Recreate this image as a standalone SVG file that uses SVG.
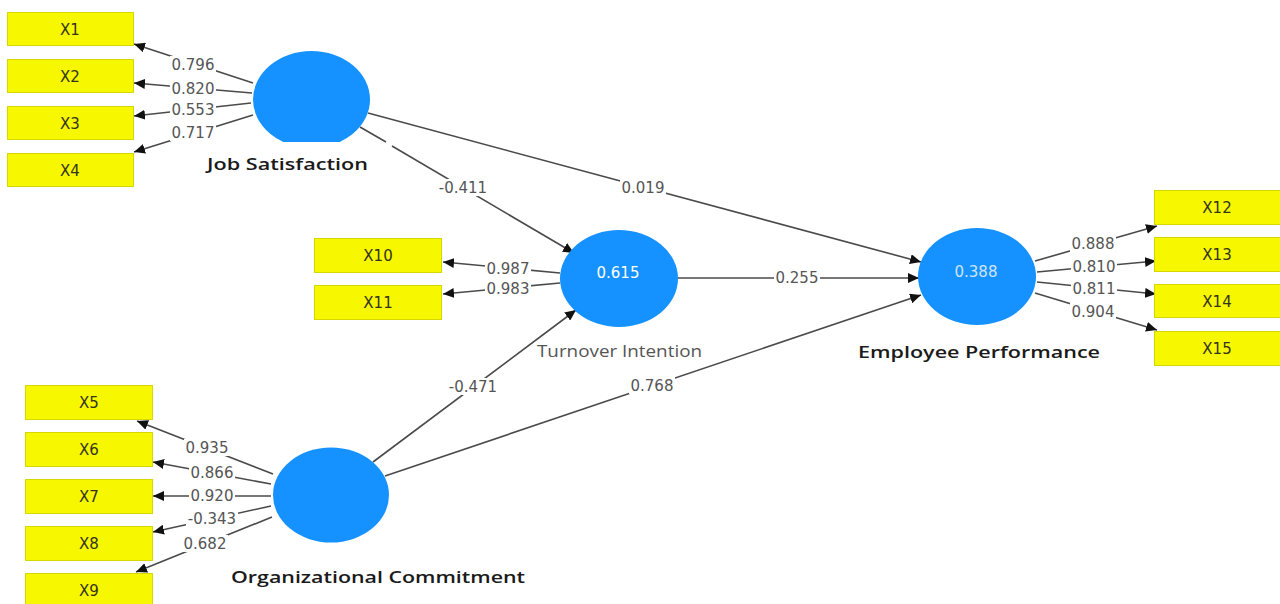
<svg xmlns="http://www.w3.org/2000/svg" width="1280" height="604" viewBox="0 0 1280 604">
<style>
.box{fill:#F7F700;stroke:#D6D600;stroke-width:1}
.bt{font-family:"DejaVu Sans",sans-serif;font-size:15px;fill:#33331a;text-anchor:middle}
.lv{fill:#1592FF}
.vt{font-family:"DejaVu Sans",sans-serif;font-size:15px;fill:#ffffff;text-anchor:middle}
.ln{stroke:#4a4a4a;stroke-width:1.6;fill:none}
.lb{fill:#ffffff}
.lt{font-family:"DejaVu Sans",sans-serif;font-size:15px;fill:#555555;text-anchor:middle}
.nm{font-family:"Open Sans","DejaVu Sans",sans-serif;font-size:17px;font-weight:600;fill:#1a1a1a;text-anchor:start}
.nm2{font-family:"Open Sans","DejaVu Sans",sans-serif;font-size:17px;font-weight:400;fill:#555555;text-anchor:start}
</style>
<defs>
<marker id="ah" markerUnits="userSpaceOnUse" markerWidth="12" markerHeight="10" refX="11" refY="5" orient="auto">
<path d="M0,0 L11,5 L0,10 z" fill="#111111"/>
</marker>
<clipPath id="jsclip"><rect x="240" y="40" width="150" height="102"/></clipPath>
</defs>
<rect width="1280" height="604" fill="#ffffff"/>

<g id="connectors">
<line class="ln" x1="253" y1="83" x2="134" y2="44" marker-end="url(#ah)"/>
<line class="ln" x1="252" y1="93" x2="134" y2="83" marker-end="url(#ah)"/>
<line class="ln" x1="251" y1="103" x2="134" y2="116" marker-end="url(#ah)"/>
<line class="ln" x1="253" y1="115" x2="134" y2="152" marker-end="url(#ah)"/>
<line class="ln" x1="560" y1="273" x2="443" y2="262" marker-end="url(#ah)"/>
<line class="ln" x1="560" y1="283" x2="443" y2="294" marker-end="url(#ah)"/>
<line class="ln" x1="1035" y1="261" x2="1157" y2="226" marker-end="url(#ah)"/>
<line class="ln" x1="1037" y1="272" x2="1156" y2="261" marker-end="url(#ah)"/>
<line class="ln" x1="1037" y1="282" x2="1156" y2="294" marker-end="url(#ah)"/>
<line class="ln" x1="1035" y1="293" x2="1157" y2="330" marker-end="url(#ah)"/>
<line class="ln" x1="273" y1="474" x2="137" y2="421" marker-end="url(#ah)"/>
<line class="ln" x1="271" y1="484" x2="153" y2="462" marker-end="url(#ah)"/>
<line class="ln" x1="271" y1="496" x2="153" y2="496" marker-end="url(#ah)"/>
<line class="ln" x1="271" y1="506" x2="153" y2="532" marker-end="url(#ah)"/>
<line class="ln" x1="272" y1="517" x2="136" y2="572" marker-end="url(#ah)"/>
<line class="ln" x1="360" y1="127" x2="386" y2="142"/>
<line class="ln" x1="392" y1="146" x2="574" y2="253" marker-end="url(#ah)"/>
<line class="ln" x1="368" y1="113" x2="921" y2="262" marker-end="url(#ah)"/>
<line class="ln" x1="678" y1="278" x2="919" y2="278" marker-end="url(#ah)"/>
<line class="ln" x1="373" y1="462" x2="576" y2="310" marker-end="url(#ah)"/>
<line class="ln" x1="385" y1="476" x2="921" y2="295" marker-end="url(#ah)"/>

<g>
<rect class="lb" x="170" y="56" width="46" height="17"/><text class="lt" x="193" y="70">0.796</text>
<rect class="lb" x="170" y="80" width="46" height="16"/><text class="lt" x="193" y="94">0.820</text>
<rect class="lb" x="170" y="101" width="46" height="16"/><text class="lt" x="193" y="115">0.553</text>
<rect class="lb" x="170" y="124" width="46" height="17"/><text class="lt" x="193" y="138">0.717</text>

<rect class="lb" x="485" y="260" width="46" height="16"/><text class="lt" x="508" y="274">0.987</text>
<rect class="lb" x="485" y="280" width="46" height="16"/><text class="lt" x="508" y="294">0.983</text>

<rect class="lb" x="1070" y="235" width="46" height="17"/><text class="lt" x="1093" y="249">0.888</text>
<rect class="lb" x="1071" y="258" width="46" height="17"/><text class="lt" x="1094" y="272">0.810</text>
<rect class="lb" x="1071" y="280" width="46" height="17"/><text class="lt" x="1094" y="294">0.811</text>
<rect class="lb" x="1070" y="303" width="46" height="17"/><text class="lt" x="1093" y="317">0.904</text>

<rect class="lb" x="184" y="439" width="46" height="17"/><text class="lt" x="207" y="453">0.935</text>
<rect class="lb" x="189" y="465" width="46" height="16"/><text class="lt" x="212" y="478">0.866</text>
<rect class="lb" x="189" y="488" width="46" height="16"/><text class="lt" x="212" y="501">0.920</text>
<rect class="lb" x="186" y="510" width="52" height="17"/><text class="lt" x="212" y="524">-0.343</text>
<rect class="lb" x="182" y="535" width="46" height="17"/><text class="lt" x="205" y="549">0.682</text>

<rect class="lb" x="437" y="179" width="52" height="17"/><text class="lt" x="463" y="193">-0.411</text>
<rect class="lb" x="620" y="179" width="46" height="17"/><text class="lt" x="643" y="193">0.019</text>
<rect class="lb" x="774" y="270" width="46" height="16"/><text class="lt" x="797" y="283">0.255</text>
<rect class="lb" x="447" y="378" width="52" height="17"/><text class="lt" x="473" y="392">-0.471</text>
<rect class="lb" x="629" y="377" width="46" height="17"/><text class="lt" x="652" y="391">0.768</text>
</g>
</g>

<g id="X1"><rect class="box" x="7.5" y="12.5" width="126" height="33"/><text class="bt" x="70" y="35">X1</text></g>
<g id="X2"><rect class="box" x="7.5" y="59.5" width="126" height="33"/><text class="bt" x="70" y="82">X2</text></g>
<g id="X3"><rect class="box" x="7.5" y="106.5" width="126" height="33"/><text class="bt" x="70" y="129">X3</text></g>
<g id="X4"><rect class="box" x="7.5" y="153.5" width="126" height="33"/><text class="bt" x="70" y="176">X4</text></g>

<g id="X10"><rect class="box" x="314.5" y="238.5" width="127" height="34"/><text class="bt" x="378" y="261">X10</text></g>
<g id="X11"><rect class="box" x="314.5" y="285.5" width="127" height="34"/><text class="bt" x="378" y="308">X11</text></g>

<g id="X12"><rect class="box" x="1154.5" y="190.5" width="126" height="34"/><text class="bt" x="1217" y="213">X12</text></g>
<g id="X13"><rect class="box" x="1154.5" y="237.5" width="126" height="34"/><text class="bt" x="1217" y="260">X13</text></g>
<g id="X14"><rect class="box" x="1154.5" y="284.5" width="126" height="33"/><text class="bt" x="1217" y="307">X14</text></g>
<g id="X15"><rect class="box" x="1154.5" y="331.5" width="126" height="34"/><text class="bt" x="1217" y="354">X15</text></g>

<g id="X5"><rect class="box" x="25.5" y="385.5" width="127" height="34"/><text class="bt" x="89" y="408">X5</text></g>
<g id="X6"><rect class="box" x="25.5" y="432.5" width="127" height="34"/><text class="bt" x="89" y="455">X6</text></g>
<g id="X7"><rect class="box" x="25.5" y="479.5" width="127" height="34"/><text class="bt" x="89" y="502">X7</text></g>
<g id="X8"><rect class="box" x="25.5" y="526.5" width="127" height="34"/><text class="bt" x="89" y="549">X8</text></g>
<g id="X9"><rect class="box" x="25.5" y="573.5" width="127" height="34"/><text class="bt" x="89" y="596">X9</text></g>

<g id="JobSatisfaction">
<ellipse class="lv" cx="311.5" cy="99.5" rx="58.5" ry="48.5" clip-path="url(#jsclip)"/>
<text class="nm" x="207" y="170" textLength="161" lengthAdjust="spacingAndGlyphs">Job Satisfaction</text>
</g>
<g id="TurnoverIntention">
<ellipse class="lv" cx="619" cy="278.5" rx="59" ry="48.5"/>
<text class="vt" x="618" y="278">0.615</text>
<text class="nm2" x="537" y="357" textLength="165" lengthAdjust="spacingAndGlyphs">Turnover Intention</text>
</g>
<g id="EmployeePerformance">
<ellipse class="lv" cx="977" cy="276.5" rx="59" ry="48.5"/>
<text class="vt" x="976" y="277" style="fill:#cfe4ff">0.388</text>
<text class="nm" x="858" y="358" textLength="242" lengthAdjust="spacingAndGlyphs">Employee Performance</text>
</g>
<g id="OrganizationalCommitment">
<ellipse class="lv" cx="331" cy="495" rx="58" ry="47.5"/>
<text class="nm" x="231" y="583" textLength="294" lengthAdjust="spacingAndGlyphs">Organizational Commitment</text>
</g>
</svg>
